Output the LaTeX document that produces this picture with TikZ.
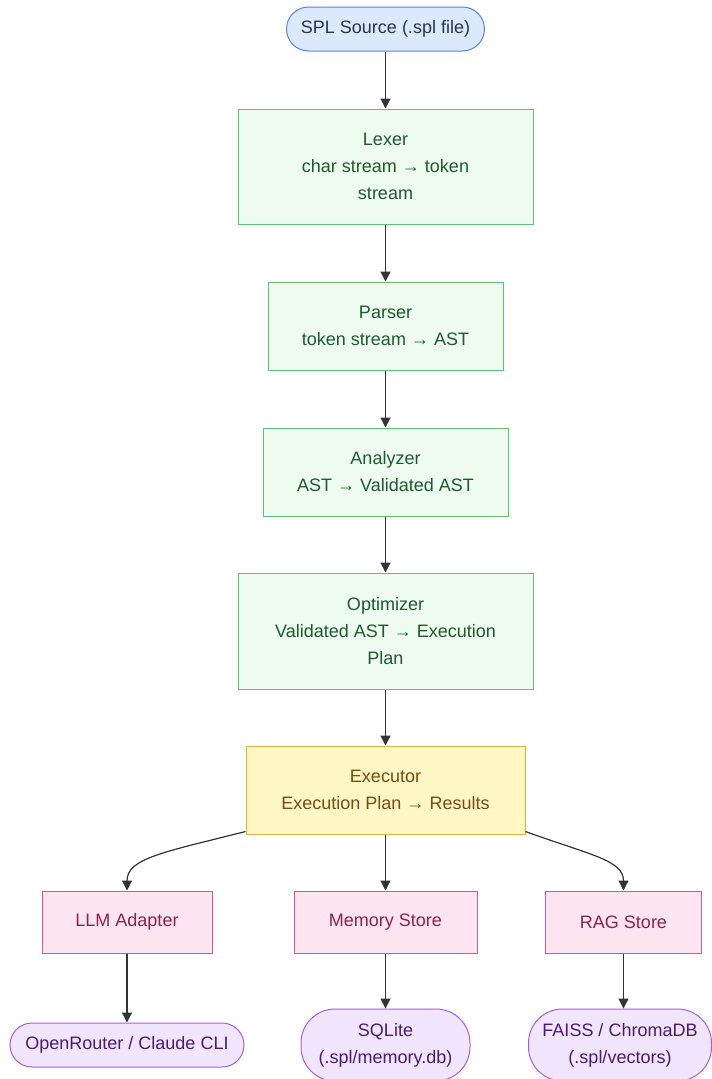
\documentclass[tikz,border=0pt]{standalone}
\usepackage{fontspec}
\setmainfont{Liberation Sans}
\usetikzlibrary{arrows.meta}
\definecolor{bfill}{HTML}{DCE8FC}\definecolor{bdraw}{HTML}{4F86E8}\definecolor{btext}{HTML}{26364F}
\definecolor{gfill}{HTML}{EEFCF0}\definecolor{gdraw}{HTML}{62BF76}\definecolor{gtext}{HTML}{1D5A2F}
\definecolor{yfill}{HTML}{FFF8C4}\definecolor{ydraw}{HTML}{E3B23C}\definecolor{ytext}{HTML}{7A4A14}
\definecolor{pfill}{HTML}{FCE5F0}\definecolor{pdraw}{HTML}{E0548E}\definecolor{ptext}{HTML}{8A2448}
\definecolor{vfill}{HTML}{F2E6FE}\definecolor{vdraw}{HTML}{A45CEE}\definecolor{vtext}{HTML}{4B1A74}
\definecolor{edge}{HTML}{333333}
\tikzset{
  x=1pt,y=-1pt,
  base/.style={inner sep=0pt,align=center,font=\fontsize{18}{27}\selectfont,line width=1pt},
  startbox/.style={base,fill=bfill,draw=bdraw,text=btext,rounded corners=22pt},
  procbox/.style={base,fill=gfill,draw=gdraw,text=gtext},
  execbox/.style={base,fill=yfill,draw=ydraw,text=ytext},
  storebox/.style={base,fill=pfill,draw=pdraw,text=ptext},
  backbox/.style={base,fill=vfill,draw=vdraw,text=vtext},
  conn/.style={draw=edge,line width=1.2pt,-{Triangle[length=10pt,width=10pt]}},
}
\begin{document}
\begin{tikzpicture}
\useasboundingbox (0,0) rectangle (712,1079);
\node[startbox,minimum width=198pt,minimum height=44pt] (src) at (385.5,29) {SPL Source (.spl file)};
\node[procbox,minimum width=295pt,minimum height=115pt] (lex) at (385.5,166.5) {Lexer\\char stream → token\\stream};
\node[procbox,minimum width=235pt,minimum height=88pt] (par) at (385.5,326) {Parser\\token stream → AST};
\node[procbox,minimum width=245pt,minimum height=88pt] (ana) at (385.5,472) {Analyzer\\AST → Validated AST};
\node[procbox,minimum width=295pt,minimum height=116pt] (opt) at (385.5,631) {Optimizer\\Validated AST → Execution\\Plan};
\node[execbox,minimum width=279pt,minimum height=88pt] (exe) at (385.5,790) {Executor\\Execution Plan → Results};
\node[storebox,minimum width=170pt,minimum height=62pt] (llm) at (127,922) {LLM Adapter};
\node[storebox,minimum width=183pt,minimum height=62pt] (mem) at (385.5,922) {Memory Store};
\node[storebox,minimum width=156pt,minimum height=62pt] (rag) at (623.5,922) {RAG Store};
\node[backbox,minimum width=234pt,minimum height=44pt,rounded corners=22pt] (orc) at (127,1045) {OpenRouter / Claude CLI};
\node[backbox,minimum width=169pt,minimum height=72pt,rounded corners=34pt] (sql) at (385.5,1045) {SQLite\\(.spl/memory.db)};
\node[backbox,minimum width=183pt,minimum height=72pt,rounded corners=34pt] (fai) at (620,1045) {FAISS / ChromaDB\\(.spl/vectors)};
\draw[conn] (src) -- (lex);
\draw[conn] (lex) -- (par);
\draw[conn] (par) -- (ana);
\draw[conn] (ana) -- (opt);
\draw[conn] (opt) -- (exe);
\draw[conn] (exe.south west) ++(0,-3) .. controls (165,852) and (127,858) .. (llm.north);
\draw[conn] (exe) -- (mem);
\draw[conn] (exe.south east) ++(0,-3) .. controls (590,855) and (623.5,860) .. (rag.north);
\draw[conn] (llm) -- (orc);
\draw[conn] (mem) -- (sql);
\draw[conn] (rag.south) -- (rag.south |- sql.north);
\end{tikzpicture}
\end{document}
